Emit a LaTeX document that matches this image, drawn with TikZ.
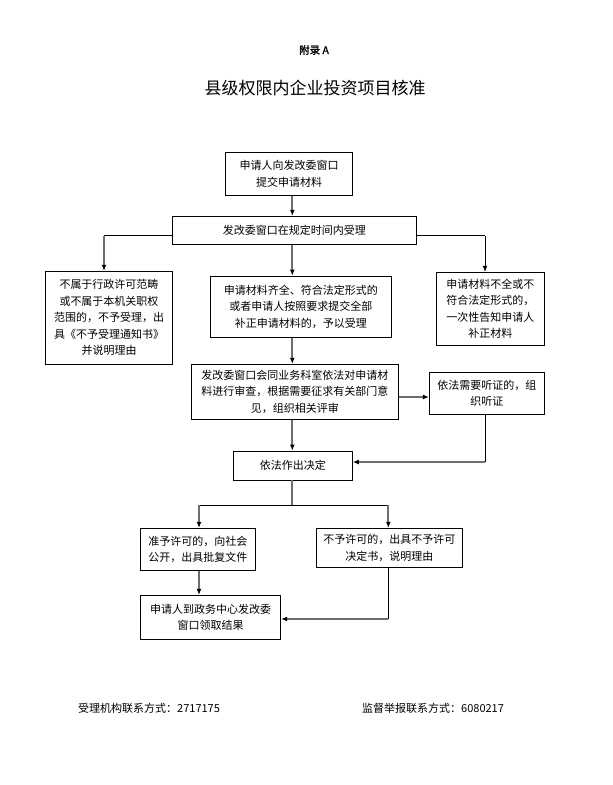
\documentclass[tikz,border=0pt]{standalone}
\usepackage{fontspec}
\usepackage{tikz}
\usetikzlibrary{arrows.meta}
\newfontfamily\cjk[AutoFakeBold=1.5]{Noto Sans CJK SC}
\definecolor{boxblack}{HTML}{000000}
\definecolor{arrowgray}{HTML}{6E6E6E}
\newcommand{\flowtext}{\cjk\fontsize{11}{16.5}\selectfont}
\newcommand{\titletext}{\cjk\fontsize{17}{20}\selectfont}

\begin{document}
\begin{tikzpicture}[x=1pt,y=-1pt,font=\flowtext,
  stepbox/.style={draw=boxblack,line width=0.9pt,align=center,inner sep=0pt},
  grayarrow/.style={-{Latex[length=6pt,width=5pt,color=black]},line width=1.8pt,color=arrowgray},
  grayline/.style={line width=1.8pt,color=arrowgray},
  thinline/.style={line width=0.9pt,color=boxblack},
  thinarrow/.style={-{Latex[length=6pt,width=5pt]},line width=0.9pt,color=boxblack}]
\fill[white] (0,0) rectangle (613,785);
\useasboundingbox (0,0) rectangle (613,785);

\node[font=\cjk\bfseries\fontsize{10.5}{12}\selectfont] (app) at (314,50) {附录 A};
\node[font=\titletext] (title) at (315,88) {县级权限内企业投资项目核准};

\node[stepbox,minimum width=127pt,minimum height=43pt] (apl) at (289,173.7) {申请人向发改委窗口\\提交申请材料};
\node[stepbox,minimum width=244pt,minimum height=28pt] (acc) at (294.3,230.3) {发改委窗口在规定时间内受理};
\node[stepbox,minimum width=127.4pt,minimum height=92.7pt] (rej) at (109,317.7) {不属于行政许可范畴\\或不属于本机关职权\\范围的，不予受理，出\\具《不予受理通知书》\\并说明理由};
\node[stepbox,minimum width=180.5pt,minimum height=61.3pt] (adm) at (300.8,306.7) {申请材料齐全、符合法定形式的\\或者申请人按照要求提交全部\\补正申请材料的，予以受理};
\node[stepbox,minimum width=108pt,minimum height=73pt] (fix) at (490.3,308.8) {申请材料不全或不\\符合法定形式的，\\一次性告知申请人\\补正材料};
\node[stepbox,minimum width=207pt,minimum height=55pt] (rev) at (294.8,391.8) {发改委窗口会同业务科室依法对申请材\\料进行审查，根据需要征求有关部门意\\见，组织相关评审};
\node[stepbox,minimum width=115pt,minimum height=42pt] (hear) at (486.8,393.3) {依法需要听证的，组\\织听证};
\node[stepbox,minimum width=119pt,minimum height=29pt] (dec) at (292.8,465.5) {依法作出决定};
\node[stepbox,minimum width=115pt,minimum height=41.7pt] (ok) at (197.8,549.2) {准予许可的，向社会\\公开，出具批复文件};
\node[stepbox,minimum width=146pt,minimum height=39pt] (no) at (389.3,547.8) {不予许可的，出具不予许可\\决定书，说明理由};
\node[stepbox,minimum width=140.4pt,minimum height=43.7pt] (res) at (210.5,617.2) {申请人到政务中心发改委\\窗口领取结果};

\node[anchor=west,inner sep=0pt] (tel1) at (78,708) {受理机构联系方式：2717175};
\node[anchor=west,inner sep=0pt] (tel2) at (362,708) {监督举报联系方式：6080217};

\coordinate (trunk) at (292.3,0);
\coordinate (lbr) at (104,235.5);
\coordinate (rbr) at (485,235.5);
\coordinate (hy) at (0,397);
\coordinate (hturn) at (485.3,462);
\coordinate (sl) at (199,505);
\coordinate (sm) at (292.3,505);
\coordinate (sr) at (388.3,505);
\coordinate (dturn) at (388.3,619);

\draw[grayarrow] (apl.south -| trunk) -- (acc.north -| trunk);
\draw[thinline] (acc.west |- lbr) -- (lbr);
\draw[grayarrow] (lbr) -- (lbr |- rej.north);
\draw[thinline] (acc.east |- rbr) -- (rbr);
\draw[thinarrow] (rbr) -- (rbr |- fix.north);
\draw[grayarrow] (acc.south -| trunk) -- (adm.north -| trunk);
\draw[grayarrow] (adm.south -| trunk) -- (rev.north -| trunk);
\draw[grayarrow] (rev.east |- hy) -- (hear.west |- hy);
\draw[thinline] (hear.south -| hturn) -- (hturn);
\draw[grayarrow] (hturn) -- (dec.east |- hturn);
\draw[grayarrow] (rev.south -| trunk) -- (dec.north -| trunk);
\draw[grayline] (dec.south -| trunk) -- (sm);
\draw[thinline] (sl) -- (sr);
\draw[grayarrow] (sl) -- (sl |- ok.north);
\draw[grayarrow] (sr) -- (sr |- no.north);
\draw[grayarrow] (ok.south -| sl) -- (res.north -| sl);
\draw[thinline] (no.south -| dturn) -- (dturn);
\draw[grayarrow] (dturn) -- (res.east |- dturn);
\end{tikzpicture}
\end{document}
